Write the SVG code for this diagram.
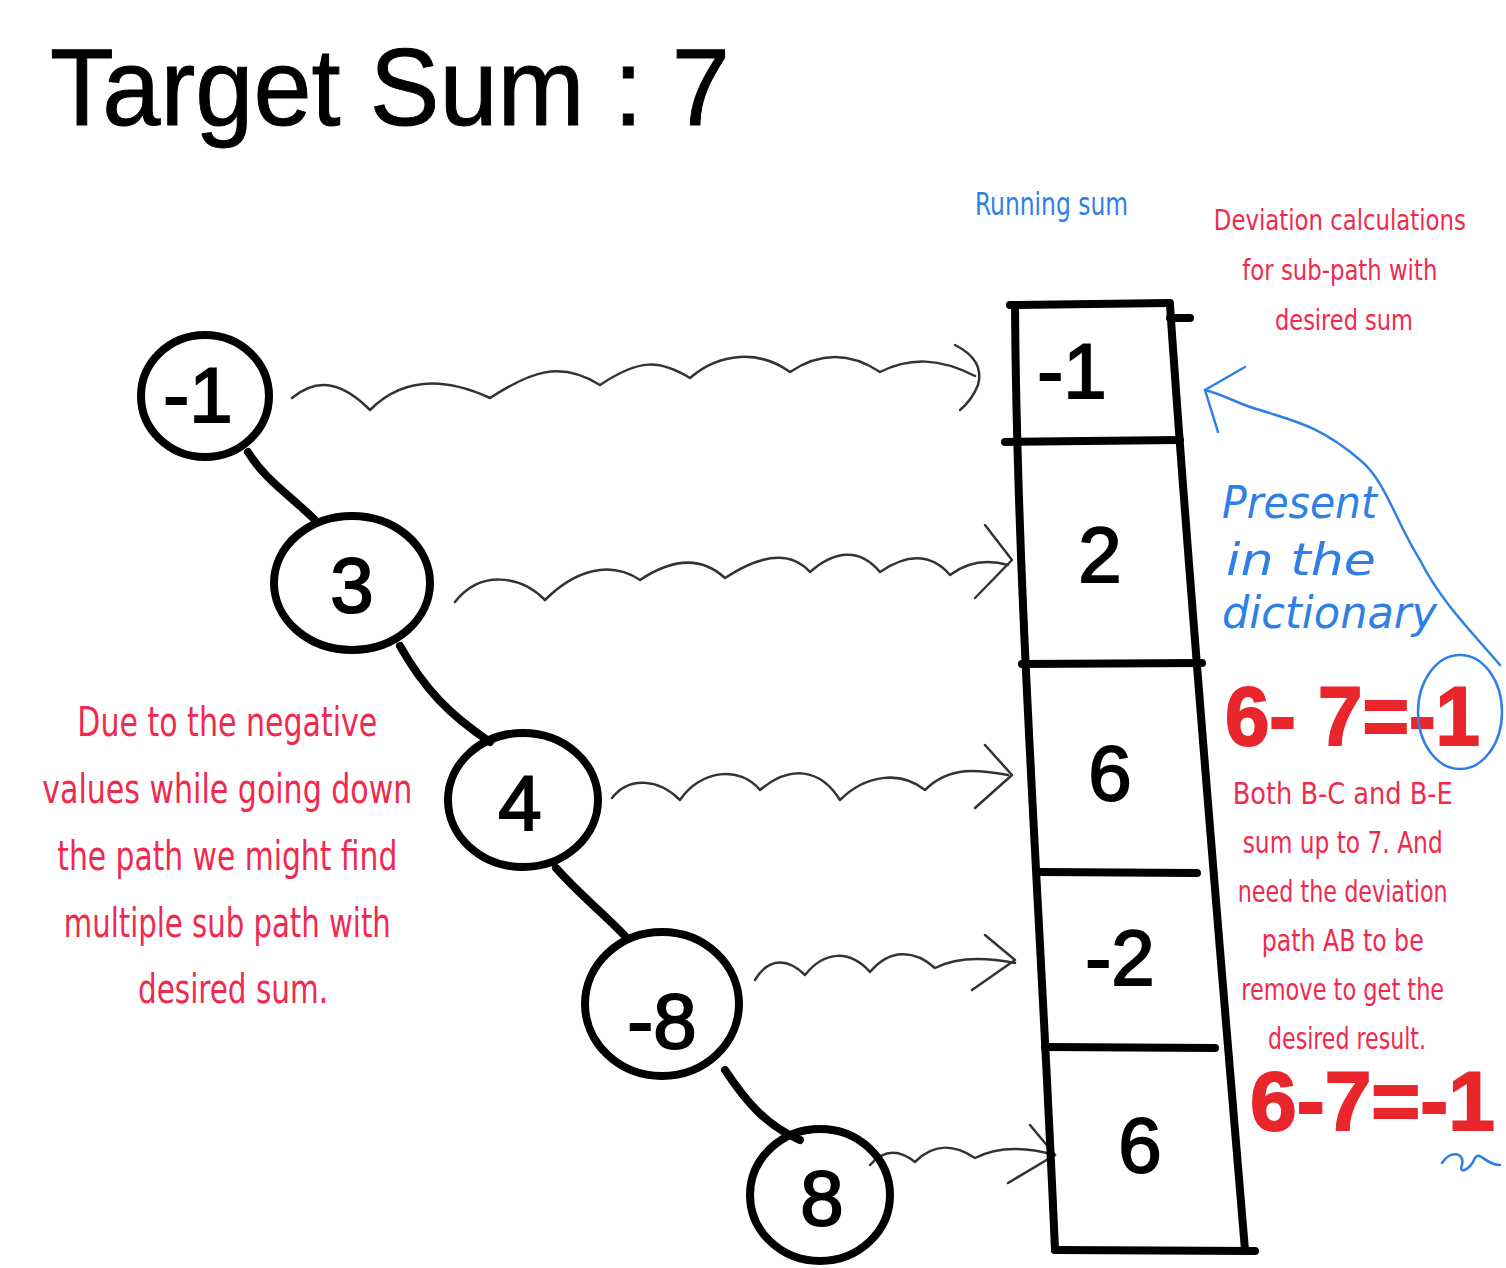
<svg xmlns="http://www.w3.org/2000/svg" width="1506" height="1268" viewBox="0 0 1506 1268">
<style>
.ink{fill:none;stroke:#000;stroke-width:8;stroke-linecap:round;stroke-linejoin:round}
.node{fill:none;stroke:#000;stroke-width:8}
.wave{fill:none;stroke:#333;stroke-width:2.5;stroke-linecap:round;stroke-linejoin:round}
.blue{fill:none;stroke:#2f7fe6;stroke-width:2.5;stroke-linecap:round;stroke-linejoin:round}
.num{font-family:"Liberation Sans",Arial,sans-serif;font-size:78px;fill:#000;stroke:#000;stroke-width:2;text-anchor:middle}
.red{font-family:"Liberation Sans Narrow","DejaVu Sans Condensed","Liberation Sans",sans-serif;fill:#ef2a4e;text-anchor:middle}
.eq{font-family:"Liberation Sans",Arial,sans-serif;font-weight:bold;font-size:84px;fill:#e8262b;stroke:#e8262b;stroke-width:2}
.bluet{font-family:"Liberation Sans Narrow","DejaVu Sans Condensed","Liberation Sans",sans-serif;fill:#2f7fe6}
</style>
<rect width="1506" height="1268" fill="#fff"/>
<text x="50" y="125" font-family="Liberation Sans,Arial,sans-serif" font-size="110" fill="#000" stroke="#000" stroke-width="1" textLength="680" lengthAdjust="spacingAndGlyphs">Target Sum : 7</text>

<g id="connectors">
<path class="ink" d="M248,452 C265,480 290,495 315,520"/>
<path class="ink" d="M400,646 C425,690 450,715 490,742"/>
<path class="ink" d="M556,868 C580,895 600,910 625,936"/>
<path class="ink" d="M725,1070 C745,1100 765,1125 800,1140"/>
<path class="wave" d="M292,398 C320,375 345,385 370,410 C400,380 440,375 490,398 C530,372 560,360 600,385 C640,358 660,360 690,378 C720,352 760,350 790,372 C820,352 850,352 880,372 C910,357 940,358 975,376"/>
<path class="wave" d="M955,345 Q985,360 978,385 Q972,400 960,410"/>
<path class="wave" d="M455,602 C480,570 520,575 545,600 C575,570 610,560 640,580 C670,560 700,555 725,578 C760,555 790,550 810,572 C835,550 860,548 880,572 C905,555 930,552 950,575 C970,560 990,560 1008,565"/>
<path class="wave" d="M985,525 L1012,560 L975,598"/>
<path class="wave" d="M612,798 C630,775 660,780 680,800 C700,770 740,765 760,790 C790,765 820,768 840,800 C865,775 900,770 925,790 C950,765 980,770 1008,775"/>
<path class="wave" d="M985,745 L1012,775 L975,808"/>
<path class="wave" d="M755,980 C770,955 790,960 805,975 C825,950 850,950 870,972 C890,948 915,950 935,968 C960,955 990,958 1015,963"/>
<path class="wave" d="M985,935 L1015,960 L972,990"/>
<path class="wave" d="M870,1165 C885,1148 900,1150 915,1162 C935,1142 955,1145 975,1158 C1000,1145 1030,1148 1055,1155"/>
<path class="wave" d="M1030,1125 L1055,1155 L1008,1183"/>
<path class="blue" d="M1500,665 C1470,630 1440,600 1420,560 C1395,520 1385,480 1360,460 C1320,425 1290,420 1260,410 C1240,405 1225,395 1205,390"/>
<path class="blue" d="M1245,367 L1205,390 L1218,432"/>
</g>

<g id="array">
<path class="ink" d="M1010,305 L1170,303"/>
<path class="ink" d="M1015,305 C1017,600 1040,900 1055,1250"/>
<path class="ink" d="M1170,305 C1190,600 1220,950 1245,1250"/>
<path class="ink" d="M1170,318 L1190,318"/>
<path class="ink" d="M1005,442 L1180,440"/>
<path class="ink" d="M1022,664 L1202,663"/>
<path class="ink" d="M1040,872 L1197,873"/>
<path class="ink" d="M1045,1047 L1215,1048"/>
<path class="ink" d="M1055,1250 L1255,1251"/>
<text class="num" x="1072" y="398">-1</text>
<text class="num" x="1100" y="582">2</text>
<text class="num" x="1110" y="800">6</text>
<text class="num" x="1120" y="985">-2</text>
<text class="num" x="1140" y="1172">6</text>
</g>

<g id="node-a"><ellipse class="node" cx="205" cy="396" rx="64" ry="61"/><text class="num" x="198" y="422">-1</text></g>
<g id="node-b"><ellipse class="node" cx="352" cy="583" rx="78" ry="67"/><text class="num" x="352" y="612">3</text></g>
<g id="node-c"><ellipse class="node" cx="523" cy="800" rx="75" ry="67"/><text class="num" x="520" y="830">4</text></g>
<g id="node-d"><ellipse class="node" cx="662" cy="1004" rx="77" ry="72"/><text class="num" x="662" y="1048">-8</text></g>
<g id="node-e"><ellipse class="node" cx="820" cy="1195" rx="70" ry="66"/><text class="num" x="822" y="1225">8</text></g>

<g id="labels">
<text class="bluet" x="975" y="215" font-size="32" textLength="153" lengthAdjust="spacingAndGlyphs">Running sum</text>
<text class="red" font-size="29">
<tspan x="1344" y="230" textLength="252" lengthAdjust="spacingAndGlyphs">Deviation calculations</tspan>
<tspan x="1344" y="280" textLength="195" lengthAdjust="spacingAndGlyphs">for sub-path with</tspan>
<tspan x="1344" y="330" textLength="138" lengthAdjust="spacingAndGlyphs">desired sum</tspan>
</text>
<text class="red" font-size="40">
<tspan x="233" y="736" textLength="300" lengthAdjust="spacingAndGlyphs">Due to the negative</tspan>
<tspan x="233" y="803" textLength="370" lengthAdjust="spacingAndGlyphs">values while going down</tspan>
<tspan x="233" y="870" textLength="340" lengthAdjust="spacingAndGlyphs">the path we might find</tspan>
<tspan x="233" y="937" textLength="327" lengthAdjust="spacingAndGlyphs">multiple sub path with</tspan>
<tspan x="233" y="1003" textLength="190" lengthAdjust="spacingAndGlyphs">desired sum.</tspan>
</text>
<text class="red" font-size="30">
<tspan x="1347" y="804" textLength="220" lengthAdjust="spacingAndGlyphs">Both B-C and B-E</tspan>
<tspan x="1347" y="853" textLength="200" lengthAdjust="spacingAndGlyphs">sum up to 7. And</tspan>
<tspan x="1347" y="902" textLength="210" lengthAdjust="spacingAndGlyphs">need the deviation</tspan>
<tspan x="1347" y="951" textLength="162" lengthAdjust="spacingAndGlyphs">path AB to be</tspan>
<tspan x="1347" y="1000" textLength="203" lengthAdjust="spacingAndGlyphs">remove to get the</tspan>
<tspan x="1347" y="1049" textLength="158" lengthAdjust="spacingAndGlyphs">desired result.</tspan>
</text>
<text class="eq" x="1225" y="745" textLength="255" lengthAdjust="spacingAndGlyphs">6- 7=-1</text>
<text class="eq" x="1250" y="1130" font-size="78" textLength="245" lengthAdjust="spacingAndGlyphs">6-7=-1</text>
<ellipse class="blue" cx="1460" cy="712" rx="42" ry="57"/>
<text class="bluet" font-size="44" font-style="italic">
<tspan x="1222" y="518" textLength="155" lengthAdjust="spacingAndGlyphs">Present</tspan>
<tspan x="1226" y="575" textLength="150" lengthAdjust="spacingAndGlyphs">in the</tspan>
<tspan x="1222" y="628" textLength="215" lengthAdjust="spacingAndGlyphs">dictionary</tspan>
</text>
<path class="blue" d="M1442,1163 C1450,1150 1465,1152 1462,1165 C1458,1175 1470,1170 1475,1158 C1480,1150 1485,1165 1500,1165"/>
</g>
</svg>
